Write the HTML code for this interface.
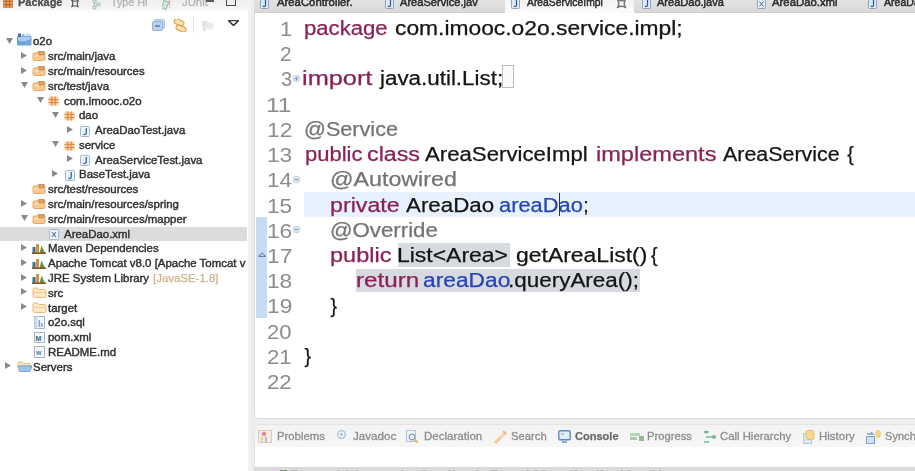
<!DOCTYPE html>
<html><head><meta charset="utf-8">
<style>
*{margin:0;padding:0;box-sizing:border-box}
html,body{width:915px;height:471px;overflow:hidden;background:#fff;font-family:"Liberation Sans",sans-serif;position:relative}
.abs{position:absolute}
.t{position:absolute;white-space:pre;transform-origin:0 0;color:#151515;-webkit-text-stroke:0.25px currentColor}
.ln{color:#8c8c8c;-webkit-text-stroke:0}
.k{color:#8a2259}
.a{color:#747474}
.f{color:#2746b4}
.n{color:#151515}
.tr{color:#303030;-webkit-text-stroke:0.4px #303030}
.tg{color:#cdb08a}
.tb{color:#2e2e2e;-webkit-text-stroke:0.5px #2e2e2e}
.lh{color:#4a4a4a;font-weight:bold}
.lf{color:#b4b4b4;-webkit-text-stroke:0.3px #b4b4b4}
.b{color:#8d8d8d;-webkit-text-stroke:0.3px #8d8d8d}
.bb{color:#6a6a6a;font-weight:bold}
#lhdr{position:absolute;left:0;top:0;width:248px;height:13px;background:linear-gradient(#eeeeee,#f6f6f6 70%,#fff)}
#sep{position:absolute;left:248px;top:0;width:667px;height:471px;background:linear-gradient(90deg,#f3f3f3 0,#f0f0f0 3px,#e9e9e9 4px,#ededed 5px,#f0f0f0 6px)}
#etabs{position:absolute;left:254px;top:0;width:661px;height:13px;background:linear-gradient(#e2e2e2,#d9d9d9);border-bottom:1px solid #cfcfcf}
#ed{position:absolute;left:253.5px;top:13px;width:662px;height:406px;background:#fff;border-left:1px solid #dedede;border-bottom:1px solid #d9d9d9;border-bottom-left-radius:5px}
#bot{position:absolute;left:254px;top:424px;width:661px;height:47px;background:#fff;border-top-left-radius:5px;border-left:1px solid #e4e4e4;border-top:1px solid #e4e4e4}
#btabs{position:absolute;left:255px;top:425px;width:660px;height:22px;background:linear-gradient(#f3f3f3,#f7f7f7);border-top-left-radius:4px}
#bstrip{position:absolute;left:254px;top:467px;width:661px;height:4px;background:#d6d6d6}
#wrap{position:absolute;left:0;top:0;width:915px;height:471px;overflow:hidden;filter:blur(0.35px)}
</style></head><body><div id="wrap">
<div id="lhdr"></div>
<div id="sep"></div>
<div id="etabs"></div>
<div id="ed"></div>
<div id="bot"></div>
<div id="btabs"></div>
<div id="bstrip"></div>
<div class="abs" style="left:0;top:227.14px;width:246.5px;height:14px;background:#dcdcdc"></div>
<svg class="abs" style="left:6.0px;top:37.6px" width="7" height="6" viewBox="0 0 7 6"><path d="M0 0h7L3.5 6z" fill="#8a8a8a"/></svg>
<div class="abs" style="left:16.8px;top:33.0px;line-height:0"><svg width="15" height="13" viewBox="0 0 15 13"><path d="M0.5 3.5h13.5v8.5H0.5z" fill="#a9cdee" stroke="#6d9fd0"/><path d="M1 7c3 2 7 2 12.5-1v6H1z" fill="#6fa6da"/><rect x="1" y="0.5" width="3" height="3.5" fill="#3d6fa8"/><rect x="5" y="1" width="2.5" height="3" fill="#8bb3da"/><path d="M10 0.5v3.5M12 0.5v3.5" stroke="#8bb3da"/></svg></div>
<span class="t tr" style="left:33.0px;top:35.47px;font-size:10.6px;line-height:12.72px;transform:scaleX(1.08)">o2o</span>
<svg class="abs" style="left:20.7px;top:51.9px" width="6" height="7" viewBox="0 0 6 7"><path d="M0 0v7l6-3.5z" fill="#8a8a8a"/></svg>
<div class="abs" style="left:32.2px;top:50.3px;line-height:0"><svg width="14" height="11" viewBox="0 0 14 11"><path d="M1 4.5c0-1 0.5-1.5 1.5-1.5h2l1-1h6c1 0 1.5 0.5 1.5 1.5v5.5c0 1-0.5 1.5-1.5 1.5h-9c-1 0-1.5-0.5-1.5-1.5z" fill="#f6c98f" stroke="#e2a25a" stroke-width="0.9"/><path d="M1.5 6.5c2-1 5-1.5 11.5-1" stroke="#fbe2bf" stroke-width="1.2" fill="none"/><rect x="6.5" y="1" width="6" height="4.5" rx="0.8" fill="#c88a52"/><path d="M6.5 3.2h6M9.5 1v4.5" stroke="#e8b47a" stroke-width="0.8"/></svg></div>
<span class="t tr" style="left:48.4px;top:50.25px;font-size:10.6px;line-height:12.72px;transform:scaleX(1.08)">src/main/java</span>
<svg class="abs" style="left:20.7px;top:66.7px" width="6" height="7" viewBox="0 0 6 7"><path d="M0 0v7l6-3.5z" fill="#8a8a8a"/></svg>
<div class="abs" style="left:32.2px;top:65.1px;line-height:0"><svg width="14" height="11" viewBox="0 0 14 11"><path d="M1 4.5c0-1 0.5-1.5 1.5-1.5h2l1-1h6c1 0 1.5 0.5 1.5 1.5v5.5c0 1-0.5 1.5-1.5 1.5h-9c-1 0-1.5-0.5-1.5-1.5z" fill="#f6c98f" stroke="#e2a25a" stroke-width="0.9"/><path d="M1.5 6.5c2-1 5-1.5 11.5-1" stroke="#fbe2bf" stroke-width="1.2" fill="none"/><rect x="6.5" y="1" width="6" height="4.5" rx="0.8" fill="#c88a52"/><path d="M6.5 3.2h6M9.5 1v4.5" stroke="#e8b47a" stroke-width="0.8"/></svg></div>
<span class="t tr" style="left:48.4px;top:65.03px;font-size:10.6px;line-height:12.72px;transform:scaleX(1.08)">src/main/resources</span>
<svg class="abs" style="left:21.4px;top:81.9px" width="7" height="6" viewBox="0 0 7 6"><path d="M0 0h7L3.5 6z" fill="#8a8a8a"/></svg>
<div class="abs" style="left:32.2px;top:79.8px;line-height:0"><svg width="14" height="11" viewBox="0 0 14 11"><path d="M1 4.5c0-1 0.5-1.5 1.5-1.5h2l1-1h6c1 0 1.5 0.5 1.5 1.5v5.5c0 1-0.5 1.5-1.5 1.5h-9c-1 0-1.5-0.5-1.5-1.5z" fill="#f6c98f" stroke="#e2a25a" stroke-width="0.9"/><path d="M1.5 6.5c2-1 5-1.5 11.5-1" stroke="#fbe2bf" stroke-width="1.2" fill="none"/><rect x="6.5" y="1" width="6" height="4.5" rx="0.8" fill="#c88a52"/><path d="M6.5 3.2h6M9.5 1v4.5" stroke="#e8b47a" stroke-width="0.8"/></svg></div>
<span class="t tr" style="left:48.4px;top:79.81px;font-size:10.6px;line-height:12.72px;transform:scaleX(1.08)">src/test/java</span>
<svg class="abs" style="left:36.8px;top:96.7px" width="7" height="6" viewBox="0 0 7 6"><path d="M0 0h7L3.5 6z" fill="#8a8a8a"/></svg>
<div class="abs" style="left:48.4px;top:96.1px;line-height:0"><svg width="11" height="10" viewBox="0 0 11 10"><rect x="0.5" y="0.5" width="10" height="9" rx="1.5" fill="#f7cfa2"/><path d="M3.8 0.5v9M7.2 0.5v9M0.5 3.5h10M0.5 6.5h10" stroke="#df8a45" stroke-width="1.2"/></svg></div>
<span class="t tr" style="left:63.8px;top:94.59px;font-size:10.6px;line-height:12.72px;transform:scaleX(1.08)">com.imooc.o2o</span>
<svg class="abs" style="left:52.2px;top:111.5px" width="7" height="6" viewBox="0 0 7 6"><path d="M0 0h7L3.5 6z" fill="#8a8a8a"/></svg>
<div class="abs" style="left:63.8px;top:110.9px;line-height:0"><svg width="11" height="10" viewBox="0 0 11 10"><rect x="0.5" y="0.5" width="10" height="9" rx="1.5" fill="#f7cfa2"/><path d="M3.8 0.5v9M7.2 0.5v9M0.5 3.5h10M0.5 6.5h10" stroke="#df8a45" stroke-width="1.2"/></svg></div>
<span class="t tr" style="left:79.2px;top:109.37px;font-size:10.6px;line-height:12.72px;transform:scaleX(1.08)">dao</span>
<svg class="abs" style="left:66.9px;top:125.8px" width="6" height="7" viewBox="0 0 6 7"><path d="M0 0v7l6-3.5z" fill="#8a8a8a"/></svg>
<div class="abs" style="left:79.9px;top:125.7px;line-height:0"><svg width="10" height="11" viewBox="0 0 10 11"><rect x="0.5" y="0.5" width="9" height="10" rx="1" fill="#edf3fa" stroke="#a3b6ca"/><path d="M6.3 2v5c0 1.6-1.8 1.8-3 1" fill="none" stroke="#3b6fa8" stroke-width="1.4"/></svg></div>
<span class="t tr" style="left:94.6px;top:124.15px;font-size:10.6px;line-height:12.72px;transform:scaleX(1.08)">AreaDaoTest.java</span>
<svg class="abs" style="left:52.2px;top:141.1px" width="7" height="6" viewBox="0 0 7 6"><path d="M0 0h7L3.5 6z" fill="#8a8a8a"/></svg>
<div class="abs" style="left:63.8px;top:140.5px;line-height:0"><svg width="11" height="10" viewBox="0 0 11 10"><rect x="0.5" y="0.5" width="10" height="9" rx="1.5" fill="#f7cfa2"/><path d="M3.8 0.5v9M7.2 0.5v9M0.5 3.5h10M0.5 6.5h10" stroke="#df8a45" stroke-width="1.2"/></svg></div>
<span class="t tr" style="left:79.2px;top:138.93px;font-size:10.6px;line-height:12.72px;transform:scaleX(1.08)">service</span>
<svg class="abs" style="left:66.9px;top:155.3px" width="6" height="7" viewBox="0 0 6 7"><path d="M0 0v7l6-3.5z" fill="#8a8a8a"/></svg>
<div class="abs" style="left:79.9px;top:155.2px;line-height:0"><svg width="10" height="11" viewBox="0 0 10 11"><rect x="0.5" y="0.5" width="9" height="10" rx="1" fill="#edf3fa" stroke="#a3b6ca"/><path d="M6.3 2v5c0 1.6-1.8 1.8-3 1" fill="none" stroke="#3b6fa8" stroke-width="1.4"/></svg></div>
<span class="t tr" style="left:94.6px;top:153.71px;font-size:10.6px;line-height:12.72px;transform:scaleX(1.08)">AreaServiceTest.java</span>
<svg class="abs" style="left:51.5px;top:170.1px" width="6" height="7" viewBox="0 0 6 7"><path d="M0 0v7l6-3.5z" fill="#8a8a8a"/></svg>
<div class="abs" style="left:64.5px;top:170.0px;line-height:0"><svg width="10" height="11" viewBox="0 0 10 11"><rect x="0.5" y="0.5" width="9" height="10" rx="1" fill="#edf3fa" stroke="#a3b6ca"/><path d="M6.3 2v5c0 1.6-1.8 1.8-3 1" fill="none" stroke="#3b6fa8" stroke-width="1.4"/></svg></div>
<span class="t tr" style="left:79.2px;top:168.49px;font-size:10.6px;line-height:12.72px;transform:scaleX(1.08)">BaseTest.java</span>
<div class="abs" style="left:32.2px;top:183.3px;line-height:0"><svg width="14" height="11" viewBox="0 0 14 11"><path d="M1 4.5c0-1 0.5-1.5 1.5-1.5h2l1-1h6c1 0 1.5 0.5 1.5 1.5v5.5c0 1-0.5 1.5-1.5 1.5h-9c-1 0-1.5-0.5-1.5-1.5z" fill="#f6c98f" stroke="#e2a25a" stroke-width="0.9"/><path d="M1.5 6.5c2-1 5-1.5 11.5-1" stroke="#fbe2bf" stroke-width="1.2" fill="none"/><rect x="6.5" y="1" width="6" height="4.5" rx="0.8" fill="#c88a52"/><path d="M6.5 3.2h6M9.5 1v4.5" stroke="#e8b47a" stroke-width="0.8"/></svg></div>
<span class="t tr" style="left:48.4px;top:183.27px;font-size:10.6px;line-height:12.72px;transform:scaleX(1.08)">src/test/resources</span>
<svg class="abs" style="left:20.7px;top:199.7px" width="6" height="7" viewBox="0 0 6 7"><path d="M0 0v7l6-3.5z" fill="#8a8a8a"/></svg>
<div class="abs" style="left:32.2px;top:198.1px;line-height:0"><svg width="14" height="11" viewBox="0 0 14 11"><path d="M1 4.5c0-1 0.5-1.5 1.5-1.5h2l1-1h6c1 0 1.5 0.5 1.5 1.5v5.5c0 1-0.5 1.5-1.5 1.5h-9c-1 0-1.5-0.5-1.5-1.5z" fill="#f6c98f" stroke="#e2a25a" stroke-width="0.9"/><path d="M1.5 6.5c2-1 5-1.5 11.5-1" stroke="#fbe2bf" stroke-width="1.2" fill="none"/><rect x="6.5" y="1" width="6" height="4.5" rx="0.8" fill="#c88a52"/><path d="M6.5 3.2h6M9.5 1v4.5" stroke="#e8b47a" stroke-width="0.8"/></svg></div>
<span class="t tr" style="left:48.4px;top:198.05px;font-size:10.6px;line-height:12.72px;transform:scaleX(1.08)">src/main/resources/spring</span>
<svg class="abs" style="left:21.4px;top:215.0px" width="7" height="6" viewBox="0 0 7 6"><path d="M0 0h7L3.5 6z" fill="#8a8a8a"/></svg>
<div class="abs" style="left:32.2px;top:212.9px;line-height:0"><svg width="14" height="11" viewBox="0 0 14 11"><path d="M1 4.5c0-1 0.5-1.5 1.5-1.5h2l1-1h6c1 0 1.5 0.5 1.5 1.5v5.5c0 1-0.5 1.5-1.5 1.5h-9c-1 0-1.5-0.5-1.5-1.5z" fill="#f6c98f" stroke="#e2a25a" stroke-width="0.9"/><path d="M1.5 6.5c2-1 5-1.5 11.5-1" stroke="#fbe2bf" stroke-width="1.2" fill="none"/><rect x="6.5" y="1" width="6" height="4.5" rx="0.8" fill="#c88a52"/><path d="M6.5 3.2h6M9.5 1v4.5" stroke="#e8b47a" stroke-width="0.8"/></svg></div>
<span class="t tr" style="left:48.4px;top:212.83px;font-size:10.6px;line-height:12.72px;transform:scaleX(1.08)">src/main/resources/mapper</span>
<div class="abs" style="left:49.1px;top:229.1px;line-height:0"><svg width="10" height="11" viewBox="0 0 10 11"><rect x="0.5" y="0.5" width="9" height="10" rx="1" fill="#eef3fa" stroke="#a3b6ca"/><path d="M3 3l4 5M7 3l-4 5" stroke="#4a73a8" stroke-width="1.1"/></svg></div>
<span class="t tr" style="left:63.8px;top:227.61px;font-size:10.6px;line-height:12.72px;transform:scaleX(1.08)">AreaDao.xml</span>
<svg class="abs" style="left:20.7px;top:244.0px" width="6" height="7" viewBox="0 0 6 7"><path d="M0 0v7l6-3.5z" fill="#8a8a8a"/></svg>
<div class="abs" style="left:32.2px;top:242.9px;line-height:0"><svg width="14" height="11" viewBox="0 0 14 11"><rect x="0.5" y="4" width="3" height="6" fill="#3f6f8f"/><rect x="4" y="1" width="3" height="9" fill="#d4923c"/><path d="M7.5 10L9.5 2.5l3.5 7.5z" fill="#6f8f45"/><rect x="0" y="9.5" width="14" height="1.5" fill="#7a5a2a"/></svg></div>
<span class="t tr" style="left:48.4px;top:242.39px;font-size:10.6px;line-height:12.72px;transform:scaleX(1.08)">Maven Dependencies</span>
<svg class="abs" style="left:20.7px;top:258.8px" width="6" height="7" viewBox="0 0 6 7"><path d="M0 0v7l6-3.5z" fill="#8a8a8a"/></svg>
<div class="abs" style="left:32.2px;top:257.7px;line-height:0"><svg width="14" height="11" viewBox="0 0 14 11"><rect x="0.5" y="4" width="3" height="6" fill="#3f6f8f"/><rect x="4" y="1" width="3" height="9" fill="#d4923c"/><path d="M7.5 10L9.5 2.5l3.5 7.5z" fill="#6f8f45"/><rect x="0" y="9.5" width="14" height="1.5" fill="#7a5a2a"/></svg></div>
<span class="t tr" style="left:48.4px;top:257.17px;font-size:10.6px;line-height:12.72px;transform:scaleX(1.08)">Apache Tomcat v8.0 [Apache Tomcat v</span>
<svg class="abs" style="left:20.7px;top:273.6px" width="6" height="7" viewBox="0 0 6 7"><path d="M0 0v7l6-3.5z" fill="#8a8a8a"/></svg>
<div class="abs" style="left:32.2px;top:272.5px;line-height:0"><svg width="14" height="11" viewBox="0 0 14 11"><rect x="0.5" y="4" width="3" height="6" fill="#3f6f8f"/><rect x="4" y="1" width="3" height="9" fill="#d4923c"/><path d="M7.5 10L9.5 2.5l3.5 7.5z" fill="#6f8f45"/><rect x="0" y="9.5" width="14" height="1.5" fill="#7a5a2a"/></svg></div>
<span class="t tr" style="left:48.4px;top:271.95px;font-size:10.6px;line-height:12.72px;transform:scaleX(1.08)">JRE System Library</span>
<span class="t tg" style="left:152.7px;top:271.95px;font-size:10.6px;line-height:12.72px;transform:scaleX(1.08)">[JavaSE-1.8]</span>
<svg class="abs" style="left:20.7px;top:288.4px" width="6" height="7" viewBox="0 0 6 7"><path d="M0 0v7l6-3.5z" fill="#8a8a8a"/></svg>
<div class="abs" style="left:32.2px;top:287.3px;line-height:0"><svg width="15" height="11" viewBox="0 0 15 11"><path d="M1 2.5c0-1 0.5-1.5 1.5-1.5h3l1.5 1.5h5.5c1 0 1.5 0.5 1.5 1.5v5c0 1-0.5 1.5-1.5 1.5h-10c-1 0-1.5-0.5-1.5-1.5z" fill="#fde9c9" stroke="#e7b46e" stroke-width="0.9"/><path d="M1 5.5h13" stroke="#efc88e" stroke-width="0.8"/></svg></div>
<span class="t tr" style="left:48.4px;top:286.73px;font-size:10.6px;line-height:12.72px;transform:scaleX(1.08)">src</span>
<svg class="abs" style="left:20.7px;top:303.1px" width="6" height="7" viewBox="0 0 6 7"><path d="M0 0v7l6-3.5z" fill="#8a8a8a"/></svg>
<div class="abs" style="left:32.2px;top:302.0px;line-height:0"><svg width="15" height="11" viewBox="0 0 15 11"><path d="M1 2.5c0-1 0.5-1.5 1.5-1.5h3l1.5 1.5h5.5c1 0 1.5 0.5 1.5 1.5v5c0 1-0.5 1.5-1.5 1.5h-10c-1 0-1.5-0.5-1.5-1.5z" fill="#fde9c9" stroke="#e7b46e" stroke-width="0.9"/><path d="M1 5.5h13" stroke="#efc88e" stroke-width="0.8"/></svg></div>
<span class="t tr" style="left:48.4px;top:301.51px;font-size:10.6px;line-height:12.72px;transform:scaleX(1.08)">target</span>
<div class="abs" style="left:33.7px;top:315.8px;line-height:0"><svg width="11" height="13" viewBox="0 0 11 13"><rect x="0.5" y="0.5" width="10" height="12" fill="#f4f8fc" stroke="#a3b6ca"/><rect x="0.5" y="0.5" width="3" height="12" fill="#c9dbef"/><rect x="4.5" y="4" width="1.6" height="7" fill="#7fa7d0"/><rect x="7" y="7" width="1.6" height="4" fill="#7fa7d0"/></svg></div>
<span class="t tr" style="left:48.4px;top:316.29px;font-size:10.6px;line-height:12.72px;transform:scaleX(1.08)">o2o.sql</span>
<div class="abs" style="left:33.7px;top:332.1px;line-height:0"><svg width="11" height="11" viewBox="0 0 11 11"><rect x="0.5" y="0.5" width="10" height="10" fill="#f4f8fc" stroke="#a3b6ca"/><text x="1.6" y="8.6" font-size="7" font-family="Liberation Sans" font-weight="bold" fill="#3a5f8c">M</text></svg></div>
<span class="t tr" style="left:48.4px;top:331.07px;font-size:10.6px;line-height:12.72px;transform:scaleX(1.08)">pom.xml</span>
<div class="abs" style="left:33.7px;top:345.9px;line-height:0"><svg width="11" height="12" viewBox="0 0 11 12"><rect x="0.5" y="0.5" width="10" height="11" fill="#f6f8fb" stroke="#a8b4c4"/><text x="2" y="9" font-size="7" font-family="Liberation Sans" font-weight="bold" fill="#5a7aa8">w</text></svg></div>
<span class="t tr" style="left:48.4px;top:345.85px;font-size:10.6px;line-height:12.72px;transform:scaleX(1.08)">README.md</span>
<svg class="abs" style="left:5.3px;top:362.3px" width="6" height="7" viewBox="0 0 6 7"><path d="M0 0v7l6-3.5z" fill="#8a8a8a"/></svg>
<div class="abs" style="left:16.8px;top:361.2px;line-height:0"><svg width="16" height="11" viewBox="0 0 16 11"><path d="M1 2.5c0-1 0.5-1.5 1.5-1.5h3l1.5 1.5h5c1 0 1.5 0.5 1.5 1.5v1H1z" fill="#f6e3b8" stroke="#d9b879" stroke-width="0.8"/><path d="M1 5h14l-2 5.5H2.5z" fill="#9fc4ea" stroke="#6f9fd0" stroke-width="0.9"/></svg></div>
<span class="t tr" style="left:33.0px;top:360.63px;font-size:10.6px;line-height:12.72px;transform:scaleX(1.08)">Servers</span>
<div class="abs" style="left:304px;top:191.8px;width:611px;height:24.8px;background:#e8f2fe"></div>
<div class="abs" style="left:398px;top:242.5px;width:112px;height:24px;background:#d7dbe0"></div>
<div class="abs" style="left:356px;top:268.5px;width:284px;height:23px;background:#d7dbe0"></div>
<div class="abs" style="left:256px;top:217px;width:11px;height:101px;background:#c5dcf3"></div>
<span class="t ln" style="left:279.67px;top:15.82px;font-size:21px;line-height:25.20px;transform:scaleX(1.0411);">1</span>
<span class="t ln" style="left:280.24px;top:41.06px;font-size:21px;line-height:25.20px;transform:scaleX(0.9935);">2</span>
<span class="t ln" style="left:280.52px;top:66.30px;font-size:21px;line-height:25.20px;transform:scaleX(0.9560);">3</span>
<span class="t ln" style="left:266.47px;top:91.54px;font-size:21px;line-height:25.20px;transform:scaleX(1.1688);">11</span>
<span class="t ln" style="left:266.61px;top:116.78px;font-size:21px;line-height:25.20px;transform:scaleX(1.0843);">12</span>
<span class="t ln" style="left:266.62px;top:142.02px;font-size:21px;line-height:25.20px;transform:scaleX(1.0778);">13</span>
<span class="t ln" style="left:266.64px;top:167.26px;font-size:21px;line-height:25.20px;transform:scaleX(1.0619);">14</span>
<span class="t ln" style="left:266.62px;top:192.50px;font-size:21px;line-height:25.20px;transform:scaleX(1.0746);">15</span>
<span class="t ln" style="left:266.62px;top:217.74px;font-size:21px;line-height:25.20px;transform:scaleX(1.0778);">16</span>
<span class="t ln" style="left:266.61px;top:242.98px;font-size:21px;line-height:25.20px;transform:scaleX(1.0843);">17</span>
<span class="t ln" style="left:266.62px;top:268.22px;font-size:21px;line-height:25.20px;transform:scaleX(1.0778);">18</span>
<span class="t ln" style="left:266.61px;top:293.46px;font-size:21px;line-height:25.20px;transform:scaleX(1.0811);">19</span>
<span class="t ln" style="left:267.19px;top:318.70px;font-size:21px;line-height:25.20px;transform:scaleX(1.0465);">20</span>
<span class="t ln" style="left:267.18px;top:343.94px;font-size:21px;line-height:25.20px;transform:scaleX(1.0557);">21</span>
<span class="t ln" style="left:267.18px;top:369.18px;font-size:21px;line-height:25.20px;transform:scaleX(1.0588);">22</span>
<span class="t k" style="left:304.08px;top:16.94px;font-size:19.5px;line-height:23.40px;transform:scaleX(1.1351);">package</span>
<span class="t n" style="left:395.05px;top:16.94px;font-size:19.5px;line-height:23.40px;transform:scaleX(1.1695);">com.imooc.o2o.service.impl;</span>
<span class="t k" style="left:302.30px;top:67.42px;font-size:19.5px;line-height:23.40px;transform:scaleX(1.2986);">import</span>
<span class="t n" style="left:379.87px;top:67.42px;font-size:19.5px;line-height:23.40px;transform:scaleX(1.1474);">java.util.List;</span>
<span class="t a" style="left:304.14px;top:117.90px;font-size:19.5px;line-height:23.40px;transform:scaleX(1.1079);">@Service</span>
<span class="t k" style="left:305.09px;top:143.14px;font-size:19.5px;line-height:23.40px;transform:scaleX(1.1283);">public</span>
<span class="t k" style="left:366.83px;top:143.14px;font-size:19.5px;line-height:23.40px;transform:scaleX(1.1924);">class</span>
<span class="t n" style="left:425.43px;top:143.14px;font-size:19.5px;line-height:23.40px;transform:scaleX(1.1379);">AreaServiceImpl</span>
<span class="t k" style="left:596.41px;top:143.14px;font-size:19.5px;line-height:23.40px;transform:scaleX(1.2079);">implements</span>
<span class="t n" style="left:723.23px;top:143.14px;font-size:19.5px;line-height:23.40px;transform:scaleX(1.0986);">AreaService</span>
<span class="t n" style="left:847.25px;top:143.14px;font-size:19.5px;line-height:23.40px;transform:scaleX(1.0000);">{</span>
<span class="t a" style="left:330.31px;top:168.38px;font-size:19.5px;line-height:23.40px;transform:scaleX(1.1904);">@Autowired</span>
<span class="t k" style="left:330.01px;top:193.62px;font-size:19.5px;line-height:23.40px;transform:scaleX(1.1907);">private</span>
<span class="t n" style="left:405.83px;top:193.62px;font-size:19.5px;line-height:23.40px;transform:scaleX(1.1442);">AreaDao</span>
<span class="t f" style="left:499.39px;top:193.62px;font-size:19.5px;line-height:23.40px;transform:scaleX(1.1204);">areaDao</span>
<span class="t n" style="left:583.28px;top:193.62px;font-size:19.5px;line-height:23.40px;transform:scaleX(1.0000);">;</span>
<span class="t a" style="left:329.79px;top:218.86px;font-size:19.5px;line-height:23.40px;transform:scaleX(1.1404);">@Override</span>
<span class="t k" style="left:329.99px;top:244.10px;font-size:19.5px;line-height:23.40px;transform:scaleX(1.2056);">public</span>
<span class="t n" style="left:397.16px;top:244.10px;font-size:19.5px;line-height:23.40px;transform:scaleX(1.1763);">List&lt;Area&gt;</span>
<span class="t n" style="left:516.04px;top:244.10px;font-size:19.5px;line-height:23.40px;transform:scaleX(1.1767);">getAreaList()</span>
<span class="t n" style="left:650.90px;top:244.10px;font-size:19.5px;line-height:23.40px;transform:scaleX(1.0000);">{</span>
<span class="t k" style="left:355.87px;top:269.34px;font-size:19.5px;line-height:23.40px;transform:scaleX(1.2403);">return</span>
<span class="t f" style="left:423.05px;top:269.34px;font-size:19.5px;line-height:23.40px;transform:scaleX(1.1669);">areaDao</span>
<span class="t n" style="left:508.49px;top:269.34px;font-size:19.5px;line-height:23.40px;transform:scaleX(1.1513);">.queryArea();</span>
<span class="t n" style="left:330.55px;top:294.58px;font-size:19.5px;line-height:23.40px;transform:scaleX(1.0000);">}</span>
<span class="t n" style="left:304.40px;top:345.06px;font-size:19.5px;line-height:23.40px;transform:scaleX(1.0000);">}</span>
<svg class="abs" style="left:292.1px;top:73.6px" width="9" height="9" viewBox="0 0 9 9"><circle cx="4.5" cy="4.5" r="3.5" fill="#dbe5ef" stroke="#c2d1df" stroke-width="0.8"/><path d="M2.7 4.5h3.6" stroke="#7f9bb8" stroke-width="1"/><path d="M4.5 2.7v3.6" stroke="#7f9bb8" stroke-width="1"/></svg>
<svg class="abs" style="left:292.1px;top:174.5px" width="9" height="9" viewBox="0 0 9 9"><circle cx="4.5" cy="4.5" r="3.5" fill="#dbe5ef" stroke="#c2d1df" stroke-width="0.8"/><path d="M2.7 4.5h3.6" stroke="#7f9bb8" stroke-width="1"/></svg>
<svg class="abs" style="left:292.1px;top:225.0px" width="9" height="9" viewBox="0 0 9 9"><circle cx="4.5" cy="4.5" r="3.5" fill="#dbe5ef" stroke="#c2d1df" stroke-width="0.8"/><path d="M2.7 4.5h3.6" stroke="#7f9bb8" stroke-width="1"/></svg>
<div class="abs" style="left:501.5px;top:64.8px;width:12.5px;height:23px;border:1px solid #bdbdbd;background:#fafafa"></div>
<div class="abs" style="left:558.6px;top:193.1px;width:1.6px;height:23px;background:#333"></div>
<svg class="abs" style="left:257.5px;top:251.6px" width="8" height="5" viewBox="0 0 8 5"><path d="M0.5 4.3h7L4 0.8z" fill="none" stroke="#5a6a95" stroke-width="1"/></svg>
<div class="abs" style="left:505px;top:0;width:128.5px;height:13px;background:linear-gradient(#f4f4f4,#fbfbfb)"></div>
<svg class="abs" style="left:260.4px;top:0.0px" width="9" height="9" viewBox="0 0 9 9"><rect x="0.5" y="-2" width="8" height="10.5" rx="1" fill="#dde8f4" stroke="#8fa6bf"/><path d="M5.5 0v5.2c0 1.4-1.6 1.6-2.6 0.9" fill="none" stroke="#2d5a8e" stroke-width="1.2"/></svg>
<span class="t tb" style="left:276.50px;top:-3.61px;font-size:11px;line-height:13.20px;transform:scaleX(1.0294);">AreaController.</span>
<svg class="abs" style="left:385.2px;top:0.0px" width="9" height="9" viewBox="0 0 9 9"><rect x="0.5" y="-2" width="8" height="10.5" rx="1" fill="#dde8f4" stroke="#8fa6bf"/><path d="M5.5 0v5.2c0 1.4-1.6 1.6-2.6 0.9" fill="none" stroke="#2d5a8e" stroke-width="1.2"/></svg>
<span class="t tb" style="left:400.30px;top:-3.61px;font-size:11px;line-height:13.20px;transform:scaleX(1.0091);">AreaService.jav</span>
<svg class="abs" style="left:510.5px;top:0.0px" width="9" height="9" viewBox="0 0 9 9"><rect x="0.5" y="-2" width="8" height="10.5" rx="1" fill="#dde8f4" stroke="#8fa6bf"/><path d="M5.5 0v5.2c0 1.4-1.6 1.6-2.6 0.9" fill="none" stroke="#2d5a8e" stroke-width="1.2"/></svg>
<span class="t tb" style="left:526.90px;top:-3.61px;font-size:11px;line-height:13.20px;transform:scaleX(0.9395);">AreaServiceImpl</span>
<svg class="abs" style="left:641.6px;top:0.0px" width="9" height="9" viewBox="0 0 9 9"><rect x="0.5" y="-2" width="8" height="10.5" rx="1" fill="#dde8f4" stroke="#8fa6bf"/><path d="M5.5 0v5.2c0 1.4-1.6 1.6-2.6 0.9" fill="none" stroke="#2d5a8e" stroke-width="1.2"/></svg>
<span class="t tb" style="left:656.70px;top:-3.61px;font-size:11px;line-height:13.20px;transform:scaleX(1.0032);">AreaDao.java</span>
<svg class="abs" style="left:756.6px;top:0.0px" width="9" height="9" viewBox="0 0 9 9"><rect x="0.5" y="-2" width="8" height="10.5" rx="1" fill="#e6eef7" stroke="#8fa6bf"/><path d="M2.5 1.5l4 5M6.5 1.5l-4 5" stroke="#4a6f9a" stroke-width="1"/></svg>
<span class="t tb" style="left:772.00px;top:-3.61px;font-size:11px;line-height:13.20px;transform:scaleX(1.0316);">AreaDao.xml</span>
<svg class="abs" style="left:867.8px;top:0.0px" width="9" height="9" viewBox="0 0 9 9"><rect x="0.5" y="-2" width="8" height="10.5" rx="1" fill="#dde8f4" stroke="#8fa6bf"/><path d="M5.5 0v5.2c0 1.4-1.6 1.6-2.6 0.9" fill="none" stroke="#2d5a8e" stroke-width="1.2"/></svg>
<span class="t tb" style="left:884.00px;top:-3.61px;font-size:11px;line-height:13.20px;transform:scaleX(0.9597);">AreaDao.java</span>
<svg class="abs" style="left:615.8px;top:-2px" width="11" height="11" viewBox="0 0 11 11"><path d="M1.5 1.5Q5.5 4 9.5 1.5Q7 5.5 9.5 9.5Q5.5 7 1.5 9.5Q4 5.5 1.5 1.5Z" fill="none" stroke="#7a7a7a" stroke-width="1.5" stroke-linejoin="round"/></svg>
<span class="t b" style="left:276.80px;top:429.89px;font-size:11px;line-height:13.20px;transform:scaleX(1.0290);">Problems</span>
<span class="t b" style="left:352.80px;top:429.89px;font-size:11px;line-height:13.20px;transform:scaleX(1.0568);">Javadoc</span>
<span class="t b" style="left:423.78px;top:429.89px;font-size:11px;line-height:13.20px;transform:scaleX(1.0469);">Declaration</span>
<span class="t b" style="left:510.99px;top:429.89px;font-size:11px;line-height:13.20px;transform:scaleX(1.0241);">Search</span>
<span class="t bb" style="left:575.16px;top:429.89px;font-size:11px;line-height:13.20px;transform:scaleX(1.0032);">Console</span>
<span class="t b" style="left:647.11px;top:429.89px;font-size:11px;line-height:13.20px;transform:scaleX(1.0222);">Progress</span>
<span class="t b" style="left:720.12px;top:429.89px;font-size:11px;line-height:13.20px;transform:scaleX(1.0307);">Call Hierarchy</span>
<span class="t b" style="left:819.39px;top:429.89px;font-size:11px;line-height:13.20px;transform:scaleX(1.0457);">History</span>
<span class="t b" style="left:884.50px;top:429.89px;font-size:11px;line-height:13.20px;transform:scaleX(1.0073);">Synchronize</span>
<svg class="abs" style="left:2.8px;top:-2px" width="10" height="10" viewBox="0 0 10 10"><rect x="0" y="0" width="10" height="10" fill="#e59a55"/><path d="M3.3 0v10M6.6 0v10M0 3.3h10M0 6.6h10" stroke="#b3692c" stroke-width="0.9"/></svg>
<span class="t lh" style="left:17.75px;top:-4.01px;font-size:11px;line-height:13.20px;transform:scaleX(0.9954);">Package</span>
<svg class="abs" style="left:69.8px;top:-1px" width="10" height="9" viewBox="0 0 11 11"><path d="M1.5 1.5Q5.5 4 9.5 1.5Q7 5.5 9.5 9.5Q5.5 7 1.5 9.5Q4 5.5 1.5 1.5Z" fill="none" stroke="#5a5a5a" stroke-width="1.5" stroke-linejoin="round"/></svg>
<svg class="abs" style="left:92.3px;top:-1px" width="9" height="11" viewBox="0 0 9 11"><path d="M1 1h3v3H1zM5 4h3v3H5zM1 7h3v3H1z" fill="#cfe3d8" stroke="#9fc2ad" stroke-width="0.8"/><path d="M2.5 4v3M4 5.5h1" stroke="#9fc2ad"/></svg>
<span class="t lf" style="left:111.26px;top:-4.01px;font-size:11px;line-height:13.20px;transform:scaleX(0.9776);">Type Hi</span>
<svg class="abs" style="left:162px;top:-1px" width="11" height="11" viewBox="0 0 11 11"><rect x="0.5" y="2" width="5" height="8" fill="#cfe6dc" stroke="#8fbfa8" transform="rotate(20 3 6)"/><path d="M7.5 1v6" stroke="#f0a8a8" stroke-width="1.3"/><circle cx="7.5" cy="8.8" r="0.8" fill="#f0a8a8"/></svg>
<span class="t lf" style="left:181.61px;top:-4.01px;font-size:11px;line-height:13.20px;transform:scaleX(1.0317);">JUnit</span>
<div class="abs" style="left:205.5px;top:0;width:8.5px;height:2px;background:#5a5a5a"></div>
<div class="abs" style="left:225.7px;top:-2px;width:10px;height:8px;border:1.5px solid #4a4a4a;border-top-width:2px"></div>
<svg class="abs" style="left:152.3px;top:19px" width="13" height="12" viewBox="0 0 13 12"><rect x="2.5" y="0.5" width="10" height="9" rx="1.5" fill="#cadcf0" stroke="#a9c2de"/><rect x="0.5" y="2.5" width="10" height="9" rx="1.5" fill="#bcd3ec" stroke="#93b2d6"/><path d="M3 7h5" stroke="#4f7fb5" stroke-width="1.6"/></svg>
<svg class="abs" style="left:172px;top:18.5px" width="16" height="13" viewBox="0 0 16 13"><g transform="rotate(22 8 6.5)"><rect x="1" y="1.5" width="10" height="5" rx="2.5" fill="#fbe3b6" stroke="#e6a752" stroke-width="1.3"/><rect x="5" y="6.5" width="10" height="5" rx="2.5" fill="#fbe3b6" stroke="#e6a752" stroke-width="1.3"/></g></svg>
<div class="abs" style="left:193.3px;top:16px;width:1px;height:17px;background:#e6e6e6"></div>
<svg class="abs" style="left:200.8px;top:19px" width="13" height="12" viewBox="0 0 13 12"><circle cx="4" cy="5" r="3.5" fill="#e4e4e4"/><circle cx="9" cy="7" r="3.5" fill="#e9e9e9"/><rect x="2" y="7" width="3" height="5" fill="#e4e4e4"/></svg>
<svg class="abs" style="left:228.4px;top:19.7px" width="11" height="6" viewBox="0 0 11 6"><path d="M0.5 0.5h10L5.5 5.5z" fill="#fff" stroke="#3c3c3c" stroke-width="1.6" stroke-linejoin="round"/></svg>
<div class="abs" style="left:257.5px;top:429.5px;line-height:0"><svg width="14" height="13" viewBox="0 0 14 13"><rect x="0.5" y="0.5" width="13" height="12" fill="#f3ece4" stroke="#d6c9bd"/><circle cx="6" cy="4" r="2.2" fill="#e58a8a"/><rect x="3" y="7" width="2" height="5" fill="#f2d27a"/><rect x="7" y="7" width="2" height="5" fill="#9cc7e8"/></svg></div>
<div class="abs" style="left:336.7px;top:429.5px;line-height:0"><svg width="9" height="9" viewBox="0 0 9 9"><circle cx="4.5" cy="4.5" r="3.8" fill="none" stroke="#9fc1e2" stroke-width="1.3"/><circle cx="4.5" cy="4.5" r="1.4" fill="#9fc1e2"/></svg></div>
<div class="abs" style="left:405.9px;top:429.5px;line-height:0"><svg width="13" height="14" viewBox="0 0 13 14"><rect x="0.5" y="0.5" width="9" height="11" fill="#eef2f7" stroke="#b5c4d4"/><circle cx="6" cy="7" r="2.8" fill="none" stroke="#8aa3bd" stroke-width="1.2"/><path d="M8 9l3.5 3.5" stroke="#e2b06a" stroke-width="2"/></svg></div>
<div class="abs" style="left:492.6px;top:429.5px;line-height:0"><svg width="15" height="14" viewBox="0 0 15 14"><path d="M2 13l5-5" stroke="#f2c990" stroke-width="3"/><path d="M7 8l6-6" stroke="#f0d7b0" stroke-width="3.5"/><path d="M10 1l3 3" stroke="#e8b27a" stroke-width="1.5"/></svg></div>
<div class="abs" style="left:557.5px;top:429.5px;line-height:0"><svg width="13" height="13" viewBox="0 0 13 13"><rect x="0.8" y="0.8" width="11.4" height="9" rx="1.2" fill="#e3eefa" stroke="#5d8cc2" stroke-width="1.4"/><path d="M3 4h3" stroke="#7aa0cc"/><path d="M4 12h5" stroke="#5d8cc2" stroke-width="1.4"/></svg></div>
<div class="abs" style="left:629.6px;top:429.5px;line-height:0"><svg width="14" height="12" viewBox="0 0 14 12"><rect x="0" y="3" width="10" height="3" fill="#b5d6b5"/><rect x="0" y="7" width="7" height="3" fill="#a5cca5"/><rect x="9" y="6" width="5" height="5" fill="#8dbf8d"/></svg></div>
<div class="abs" style="left:702.3px;top:429.5px;line-height:0"><svg width="15" height="14" viewBox="0 0 15 14"><path d="M2 2h5M4 7h7M2 12h5" stroke="#9cc4a8" stroke-width="2"/><circle cx="12" cy="7" r="2" fill="#7fb38f"/><circle cx="4" cy="2" r="1.6" fill="#7fb38f"/></svg></div>
<div class="abs" style="left:803.0px;top:429.5px;line-height:0"><svg width="12" height="14" viewBox="0 0 12 14"><rect x="0.5" y="3.5" width="8" height="10" fill="#dde8f2" stroke="#b7c8da"/><rect x="3" y="0.5" width="8" height="9" rx="2" fill="#f5d88f" stroke="#e8c06a"/></svg></div>
<div class="abs" style="left:865.8px;top:429.5px;line-height:0"><svg width="15" height="14" viewBox="0 0 15 14"><rect x="0.5" y="6.5" width="8" height="7" fill="#cfe0f2" stroke="#7fa3c9"/><path d="M1 4h6l-2-2" fill="none" stroke="#7fa3c9" stroke-width="1.3"/><ellipse cx="12" cy="4" rx="2.3" ry="3.5" fill="#f7dc8a" stroke="#ecc35a"/></svg></div>
<div class="abs" style="left:254px;top:467.5px;width:661px;height:4px;overflow:hidden;background:#dadada"><div class="abs" style="left:26px;top:2px;width:7px;height:6px;background:#6d9a6d"></div><span class="abs" style="left:37px;top:1.2px;font-size:11px;line-height:12px;color:#555;white-space:pre;-webkit-text-stroke:0.3px #555">Tomcat v8.0 Server at localhost [Apache Tomcat] /Library/Java/JavaVirtualM</span></div>
</div></body></html>
